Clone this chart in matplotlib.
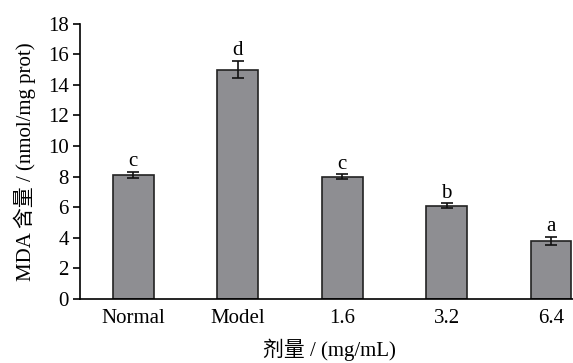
import matplotlib
matplotlib.use("Agg")
import matplotlib.pyplot as plt

# 数据
groups = ["Normal", "Model", "1.6", "3.2", "6.4"]
mda = [8.1, 15.0, 8.0, 6.1, 3.8]
mda_err = [0.2, 0.55, 0.15, 0.15, 0.25]
letters = ["c", "d", "c", "b", "a"]

plt.rcParams["font.family"] = ["Liberation Serif", "Noto Sans CJK SC"]

fig = plt.figure(figsize=(5.73, 3.63), dpi=100)
ax = fig.add_axes([0.1396, 0.176, 0.8604, 0.759])

x = list(range(len(groups)))
ax.bar(x, mda, width=0.39, color="#8e8e92", edgecolor="#222222", linewidth=1.2,
       yerr=mda_err, capsize=4, error_kw={"elinewidth": 1.2, "capthick": 1.2, "ecolor": "#111111"})

# 显著性字母
for xi, v, e, t in zip(x, mda, mda_err, letters):
    ax.text(xi, v + e + 0.05, t, ha="center", va="bottom", fontsize=15)

ax.set_xlim(-0.51, 4.21)
ax.set_ylim(0, 18)
ax.set_yticks(range(0, 19, 2))
ax.set_xticks(x)
ax.set_xticklabels(groups)
ax.tick_params(axis="x", length=0, labelsize=15, pad=7)
ax.tick_params(axis="y", direction="out", length=5, width=1.2, labelsize=15, pad=3)

for s in ["top", "right"]:
    ax.spines[s].set_visible(False)
for s in ["left", "bottom"]:
    ax.spines[s].set_linewidth(1.2)

ax.set_ylabel("MDA 含量 / (nmol/mg prot)", fontsize=15, labelpad=9)
fig.text(0.575, 0.005, "剂量 / (mg/mL)", ha="center", va="bottom", fontsize=15)

fig.savefig("out.png", dpi=100)
